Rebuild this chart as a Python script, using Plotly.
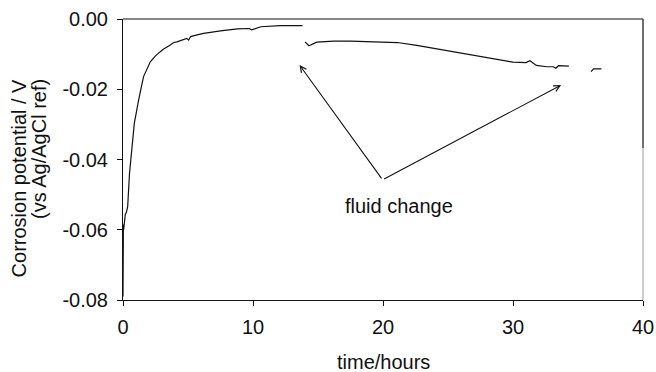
import plotly.graph_objects as go

# Corrosion potential record, three logging segments separated by fluid changes
t_seg1 = [0.00, 0.01, 0.02, 0.03, 0.05, 0.08, 0.12, 0.18, 0.25, 0.30, 0.36, 0.50,
          0.69, 0.87, 1.20, 1.58, 2.10, 2.50, 2.87, 3.10, 3.64, 3.90, 4.15, 4.60,
          4.90, 5.05, 5.20, 5.70, 6.20, 7.50, 8.80, 9.70, 9.90, 10.60, 12.10, 13.80]
e_seg1 = [-0.0790, -0.0700, -0.0640, -0.0585, -0.0600, -0.0590, -0.0570, -0.0555,
          -0.0552, -0.0545, -0.0534, -0.0440, -0.0354, -0.0297, -0.0231, -0.0164,
          -0.0122, -0.0105, -0.0093, -0.0086, -0.0074, -0.0067, -0.0065, -0.0058,
          -0.0055, -0.0060, -0.0050, -0.0045, -0.0041, -0.0034, -0.0028, -0.0027,
          -0.0031, -0.0022, -0.0019, -0.0019]

t_seg2 = [14.0, 14.3, 14.9, 16.2, 17.5, 18.8, 20.0, 21.1, 22.6, 24.0, 25.2, 26.5,
          27.5, 28.5, 30.0, 31.0, 31.3, 31.8, 32.6, 33.1, 33.3, 33.5, 34.3]
e_seg2 = [-0.0065, -0.0076, -0.0066, -0.0063, -0.0063, -0.0065, -0.0065, -0.0067,
          -0.0075, -0.0084, -0.0092, -0.0100, -0.0107, -0.0115, -0.0123, -0.0124,
          -0.0119, -0.0132, -0.0136, -0.0136, -0.0140, -0.0133, -0.0134]

t_seg3 = [36.0, 36.2, 36.8]
e_seg3 = [-0.0150, -0.0142, -0.0142]

x_ticks = [0, 10, 20, 30, 40]
y_ticks = [-0.08, -0.06, -0.04, -0.02, 0.0]
y_tick_text = ["-0.08", "-0.06", "-0.04", "-0.02", "0.00"]

FONT = "Liberation Sans, Arial, Helvetica, sans-serif"
INK = "#111111"
FS = 20

fig = go.Figure()
for t, e in [(t_seg1, e_seg1), (t_seg2, e_seg2), (t_seg3, e_seg3)]:
    fig.add_trace(go.Scatter(x=t, y=e, mode="lines",
                             line=dict(color=INK, width=1.2),
                             showlegend=False, hoverinfo="skip"))

fig.update_layout(
    width=656, height=372,
    margin=dict(l=123, r=13, t=19, b=72, autoexpand=False),
    paper_bgcolor="white", plot_bgcolor="white",
    font=dict(family=FONT, size=FS, color=INK),
    showlegend=False,
)

fig.update_xaxes(range=[0, 40], tickvals=x_ticks, ticks="outside", ticklen=5,
                 tickwidth=1, tickcolor=INK, showline=True, linecolor=INK,
                 linewidth=1, showgrid=False, zeroline=False, automargin=False,
                 ticklabelstandoff=4,
                 tickfont=dict(family=FONT, size=FS, color=INK))
fig.update_yaxes(range=[-0.08, 0], tickvals=y_ticks, ticktext=y_tick_text,
                 ticks="outside", ticklen=5, tickwidth=1, tickcolor=INK,
                 showline=True, linecolor=INK, linewidth=1, showgrid=False,
                 zeroline=False, automargin=False, ticklabelstandoff=5,
                 tickfont=dict(family=FONT, size=FS, color=INK))

# frame: top edge and right edge
fig.add_shape(type="line", xref="paper", yref="paper", x0=0, x1=1, y0=1, y1=1,
              line=dict(color=INK, width=1.2))
fig.add_shape(type="line", xref="paper", yref="y", x0=1, x1=1, y0=0, y1=-0.0367,
              line=dict(color=INK, width=1.2))
fig.add_shape(type="line", xref="paper", yref="y", x0=1, x1=1, y0=-0.0367, y1=-0.08,
              line=dict(color="#9a9a9a", width=1))

# y-axis title, two lines
fig.add_annotation(xref="paper", yref="paper", x=-0.1994, y=0.795,
                   text="Corrosion potential / V", textangle=-90, showarrow=False,
                   xanchor="center", yanchor="top",
                   font=dict(family=FONT, size=FS, color=INK))
fig.add_annotation(xref="paper", yref="paper", x=-0.1629, y=0.795,
                   text="(vs Ag/AgCl ref)", textangle=-90, showarrow=False,
                   xanchor="center", yanchor="top",
                   font=dict(family=FONT, size=FS, color=INK))
# x-axis title
fig.add_annotation(xref="paper", yref="paper", x=0.5, y=-0.221,
                   text="time/hours", showarrow=False, xanchor="center",
                   yanchor="middle", font=dict(family=FONT, size=FS, color=INK))

# fluid change callout
fig.add_annotation(x=21.25, y=-0.0532, text="fluid change", showarrow=False,
                   font=dict(family=FONT, size=FS, color=INK))
for hx, hy in [(13.58, -0.0131), (33.7, -0.0188)]:
    fig.add_annotation(x=hx, y=hy, ax=19.97, ay=-0.0458, axref="x", ayref="y",
                       text="", showarrow=True, arrowhead=5, arrowsize=1.1,
                       arrowwidth=1.1, arrowcolor=INK)

fig.write_html("out.html")
